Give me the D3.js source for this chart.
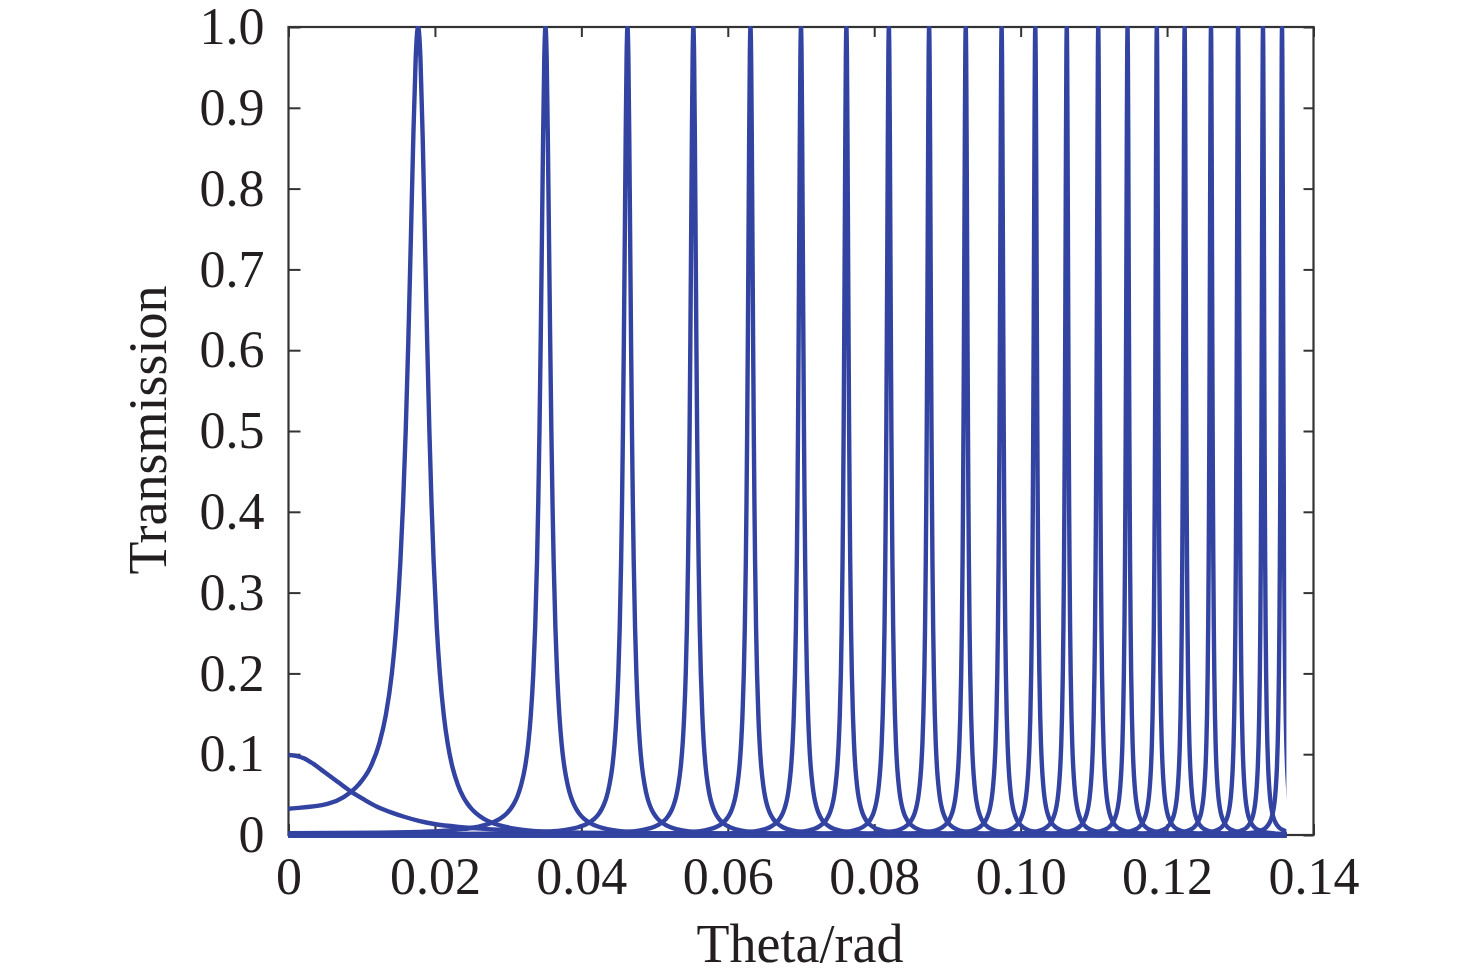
<!DOCTYPE html>
<html>
<head>
<meta charset="utf-8">
<script src="https://cdn.jsdelivr.net/npm/d3@7"></script>
<style>
    body { margin: 0; background: #fff; }
    svg text { font-family: "Liberation Serif", "Times New Roman", serif; fill: #231f20; }
</style>
</head>
<body>
<div id="chart"></div>
<script>
'use strict';

// axis ticks
const xTicks = [0, 0.02, 0.04, 0.06, 0.08, 0.10, 0.12, 0.14];
const xTickLabels = ["0", "0.02", "0.04", "0.06", "0.08", "0.10", "0.12", "0.14"];
const yTicks = [0, 0.1, 0.2, 0.3, 0.4, 0.5, 0.6, 0.7, 0.8, 0.9, 1.0];
const yTickLabels = ["0", "0.1", "0.2", "0.3", "0.4", "0.5", "0.6", "0.7", "0.8", "0.9", "1.0"];

// resonance peaks (theta of each maximum)
const peakTheta = [0.0177, 0.0351, 0.0463, 0.0553, 0.0631, 0.0700, 0.0762, 0.0820, 0.0875,
    0.0925, 0.0974, 0.1020, 0.1063, 0.1106, 0.1146, 0.1186, 0.1224, 0.1260, 0.1297, 0.1331, 0.1357];
// half width of every peak, measured in theta^2 (the same for all peaks)
const peakHalfWidthSq = 5.7e-5;
// peak profile: distance from the centre in half widths -> transmission
const profileOffset = [0, 0.2, 0.4, 0.6, 0.8, 1, 1.2, 1.4, 1.7, 2, 2.4, 2.8, 3.3, 3.9, 4.5, 5, 5.5, 6,
    7, 8, 10, 12, 15, 19, 25, 35, 50, 80, 150, 400];
const profileValue = [1, 0.962, 0.862, 0.735, 0.61, 0.5, 0.41, 0.338, 0.257, 0.2, 0.148, 0.113, 0.084,
    0.062, 0.047, 0.0385, 0.032, 0.027, 0.02, 0.0154, 0.0099, 0.0069, 0.0044, 0.0028, 0.0016, 0.0008,
    0.0004, 0.00016, 0.00004, 0];

// the low broad curve starting at theta = 0
const bumpTheta = [0, 0.001, 0.0021, 0.0034, 0.0049, 0.0067, 0.0085, 0.0103, 0.0121, 0.014, 0.0158,
    0.0178, 0.0199, 0.024, 0.030, 0.040, 0.060, 0.100, 0.1363];
const bumpValue = [0.099, 0.098, 0.095, 0.088, 0.078, 0.066, 0.054, 0.044, 0.035, 0.028, 0.0226,
    0.0175, 0.0136, 0.0095, 0.006, 0.003, 0.0015, 0.0006, 0.0003];

// last computed theta
const thetaEnd = 0.1363;

(function () {
    const width = 1476, height = 980;
    const left = 288.5, right = 1313.5, top = 27, bottom = 835;
    const blue = "#3343a1";

    const svg = d3.select("#chart").append("svg")
        .attr("width", width)
        .attr("height", height);

    const x = d3.scaleLinear().domain([0, 0.14]).range([left, right]);
    const y = d3.scaleLinear().domain([0, 1]).range([bottom, top]);

    // build one series per peak (profile laid out in theta^2, then back to theta)
    let series = peakTheta.map(function (tc) {
        const uc = tc * tc;
        let pts = [];
        for (let i = profileOffset.length - 1; i > 0; i--) {
            pts.push([uc - profileOffset[i] * peakHalfWidthSq, profileValue[i]]);
        }
        for (let i = 0; i < profileOffset.length; i++) {
            pts.push([uc + profileOffset[i] * peakHalfWidthSq, profileValue[i]]);
        }
        return pts.map(function (p) {
            const t = p[0] >= 0 ? Math.sqrt(p[0]) : -Math.sqrt(-p[0]);
            return [t, p[1]];
        });
    });
    series.unshift(bumpTheta.map(function (t, i) { return [t, bumpValue[i]]; }));

    // axes, ticks pointing inwards
    svg.append("g")
        .attr("transform", "translate(0," + bottom + ")")
        .call(d3.axisBottom(x).tickValues(xTicks)
            .tickFormat(function (d, i) { return xTickLabels[i]; })
            .tickSizeInner(-11).tickSizeOuter(0).tickPadding(22))
        .call(function (g) { g.select(".domain").remove(); });
    svg.append("g")
        .attr("transform", "translate(" + left + ",0)")
        .call(d3.axisLeft(y).tickValues(yTicks)
            .tickFormat(function (d, i) { return yTickLabels[i]; })
            .tickSizeInner(-12).tickSizeOuter(0).tickPadding(24))
        .call(function (g) { g.select(".domain").remove(); });
    svg.append("g")
        .attr("transform", "translate(0," + top + ")")
        .call(d3.axisTop(x).tickValues(xTicks).tickFormat("").tickSizeInner(-10).tickSizeOuter(0))
        .call(function (g) { g.select(".domain").remove(); });
    svg.append("g")
        .attr("transform", "translate(" + right + ",0)")
        .call(d3.axisRight(y).tickValues(yTicks).tickFormat("").tickSizeInner(-10).tickSizeOuter(0))
        .call(function (g) { g.select(".domain").remove(); });

    svg.selectAll(".tick line")
        .attr("stroke", "#333")
        .attr("stroke-width", 2);
    svg.selectAll(".tick text")
        .style("font-size", "52px")
        .attr("fill", "#231f20");

    svg.append("rect")
        .attr("x", left)
        .attr("y", top)
        .attr("width", right - left)
        .attr("height", bottom - top)
        .attr("fill", "none")
        .attr("stroke", "#333")
        .attr("stroke-width", 2.2);

    // curves
    svg.append("clipPath")
        .attr("id", "plotclip")
        .append("rect")
            .attr("x", x(0))
            .attr("y", top - 1)
            .attr("width", x(thetaEnd) - x(0))
            .attr("height", bottom - top + 10);

    const line = d3.line()
        .x(function (d) { return x(d[0]); })
        .y(function (d) { return y(d[1]); })
        .curve(d3.curveMonotoneX);

    svg.append("g")
        .attr("clip-path", "url(#plotclip)")
        .selectAll("path")
        .data(series)
        .enter()
        .append("path")
            .attr("d", line)
            .attr("fill", "none")
            .attr("stroke", blue)
            .attr("stroke-width", 4.4)
            .attr("stroke-linejoin", "round");

    // axis titles
    svg.append("text")
        .attr("x", 800)
        .attr("y", 962)
        .attr("text-anchor", "middle")
        .style("font-size", "54px")
        .text("Theta/rad");
    svg.append("text")
        .attr("transform", "translate(166,430) rotate(-90)")
        .attr("text-anchor", "middle")
        .style("font-size", "54px")
        .text("Transmission");
})();
</script>
</body>
</html>
